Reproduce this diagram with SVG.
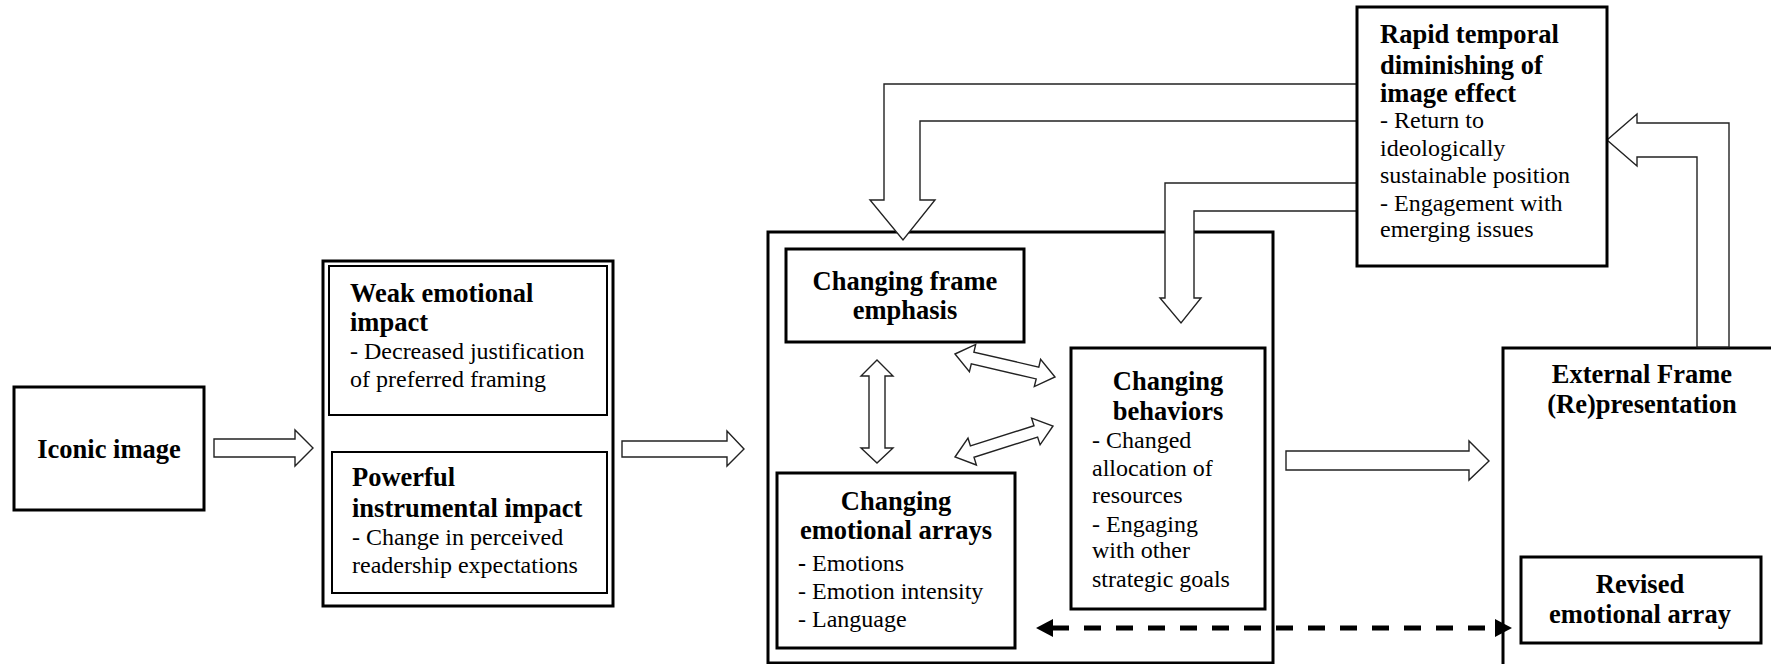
<svg xmlns="http://www.w3.org/2000/svg" width="1771" height="664" viewBox="0 0 1771 664">
<style>
.box{fill:#fff;stroke:#000;stroke-width:3}
.ibox{fill:#fff;stroke:#000;stroke-width:2}
.b{font-family:"Liberation Serif","Times New Roman",serif;font-weight:bold;font-size:26.5px;fill:#000}
.r{font-family:"Liberation Serif","Times New Roman",serif;font-size:24px;fill:#000}
.c{text-anchor:middle}
.arr{fill:#fff;stroke:#222;stroke-width:1.4;stroke-linejoin:miter}
</style>
<rect width="1771" height="664" fill="#fff"/>
<g id="iconic">
<rect class="box" x="14" y="387" width="190" height="123"/>
<text class="b c" x="109" y="458">Iconic image</text>
</g>
<g id="impact">
<rect class="box" x="323" y="261" width="290" height="345"/>
<rect class="ibox" x="329" y="266" width="278" height="149"/>
<text class="b" x="350" y="302">Weak emotional</text>
<text class="b" x="350" y="331">impact</text>
<text class="r" x="350" y="359">- Decreased justification</text>
<text class="r" x="350" y="387">of preferred framing</text>
<rect class="ibox" x="332" y="452" width="275" height="141"/>
<text class="b" x="352" y="486">Powerful</text>
<text class="b" x="352" y="517">instrumental impact</text>
<text class="r" x="352" y="545">- Change in perceived</text>
<text class="r" x="352" y="573">readership expectations</text>
</g>
<g id="change-group">
<rect class="box" x="768" y="232" width="505" height="431"/>
</g>
<g id="frame-emphasis">
<rect class="box" x="786" y="249" width="238" height="93"/>
<text class="b c" x="905" y="290">Changing frame</text>
<text class="b c" x="905" y="319">emphasis</text>
</g>
<g id="emotional-arrays">
<rect class="box" x="777" y="473" width="238" height="175"/>
<text class="b c" x="896" y="510">Changing</text>
<text class="b c" x="896" y="539">emotional arrays</text>
<text class="r" x="798" y="571"><tspan font-weight="bold">-</tspan> Emotions</text>
<text class="r" x="798" y="599">- Emotion intensity</text>
<text class="r" x="798" y="627">- Language</text>
</g>
<g id="behaviors">
<rect class="box" x="1071" y="348" width="194" height="261"/>
<text class="b c" x="1168" y="390">Changing</text>
<text class="b c" x="1168" y="420">behaviors</text>
<text class="r" x="1092" y="448">- Changed</text>
<text class="r" x="1092" y="476">allocation of</text>
<text class="r" x="1092" y="503">resources</text>
<text class="r" x="1092" y="532">- Engaging</text>
<text class="r" x="1092" y="558">with other</text>
<text class="r" x="1092" y="587">strategic goals</text>
</g>
<g id="external">
<rect class="box" x="1503" y="348" width="280" height="330"/>
<text class="b c" x="1642" y="383">External Frame</text>
<text class="b c" x="1642" y="413">(Re)presentation</text>
</g>
<g id="revised">
<rect class="box" x="1521" y="557" width="240" height="86"/>
<text class="b c" x="1640" y="593">Revised</text>
<text class="b c" x="1640" y="623">emotional array</text>
</g>
<g id="connectors">
<polygon class="arr" points="214,439 295,439 295,430 313,448 295,466 295,457 214,457"/>
<polygon class="arr" points="622,441 727,441 727,431 744,449 727,466 727,457 622,457"/>
<polygon class="arr" points="1286,451 1469,451 1469,441 1489,461 1469,480 1469,470 1286,470"/>
<polygon class="arr" points="877,360 893,376 885,376 885,448 893,448 877,463 861,448 869,448 869,376 861,376"/>
<polygon class="arr" points="955,354 975.7,344.4 973.9,352.2 1038.8,367.1 1040.6,359.4 1055,377 1034.3,386.6 1036.2,378.9 971.3,363.9 969.4,371.7"/>
<polygon class="arr" points="955,457 968,438.2 970.4,445.9 1034,425.7 1031.6,418.1 1053,426 1040.1,444.8 1037.6,437.1 974,457.3 976.4,465"/>
<polygon class="arr" points="1370,84 884,84 884,200 870,200 903,240 935,200 920,200 920,121 1370,121"/>
<polygon class="arr" points="1370,183 1165,183 1165,298 1160,298 1181,323 1201,298 1194,298 1194,211 1370,211"/>
<polygon class="arr" points="1607,140 1637,114 1637,123 1729,123 1729,347 1697,347 1697,157 1637,157 1637,166"/>
<line x1="1052" y1="628" x2="1496" y2="628" stroke="#000" stroke-width="5" stroke-dasharray="17 15"/>
<polygon points="1036,628 1053,619 1053,637" fill="#000"/>
<polygon points="1512,628 1495,619 1495,637" fill="#000"/>
</g>
<g id="rapid">
<rect class="box" x="1357" y="7" width="250" height="259"/>
<text class="b" x="1380" y="43">Rapid temporal</text>
<text class="b" x="1380" y="74">diminishing of</text>
<text class="b" x="1380" y="102">image effect</text>
<text class="r" x="1380" y="128">- Return to</text>
<text class="r" x="1380" y="156">ideologically</text>
<text class="r" x="1380" y="183">sustainable position</text>
<text class="r" x="1380" y="211">- Engagement with</text>
<text class="r" x="1380" y="237">emerging issues</text>
</g>
</svg>
